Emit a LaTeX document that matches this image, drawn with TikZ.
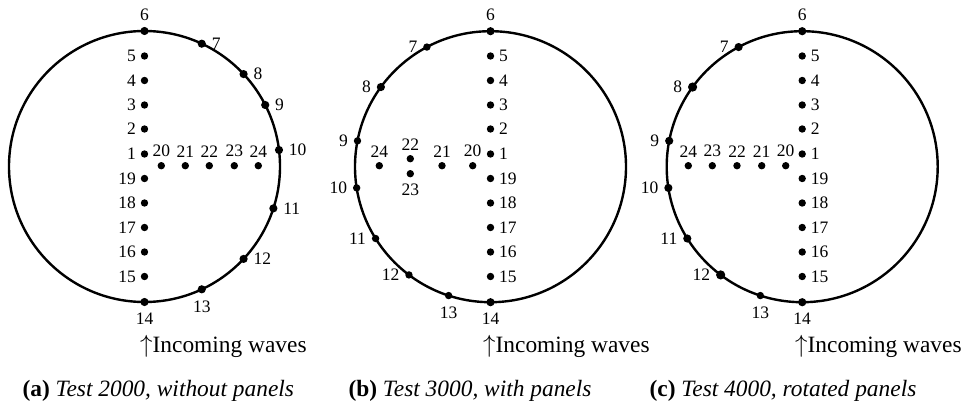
\documentclass[tikz,border=0pt]{standalone}
\usepackage{fontspec}
\setmainfont{Liberation Serif}
\begin{document}
\begin{tikzpicture}[x=1pt,y=-1pt,
  gauge/.style={circle,fill=black,inner sep=0pt,minimum size=7.4pt},
  rimgauge/.style={circle,fill=black,inner sep=0pt,minimum size=8.2pt},
  biggauge/.style={circle,fill=black,inner sep=0pt,minimum size=9.2pt},
  lab/.style={font=\fontsize{17.5}{17.5}\selectfont,inner sep=1pt},
  ring/.style={circle,draw=black,line width=2.4pt,minimum size=271pt,inner sep=0pt,outer sep=0pt},
  captxt/.style={font=\fontsize{23.4}{24}\selectfont,inner sep=0pt},
  every label/.style={lab}, label distance=3.5pt]
\useasboundingbox (0,0) rectangle (976,409);

% ---------------- panel (a) ----------------
\node[ring] (ra) at (144.5,166.5) {};
\foreach \n/\y in {5/56,4/80.5,3/105,2/129,1/154,19/178.5,18/203,17/227.5,16/252,15/276.5}
  \node[gauge,label={left:\n}] (a\n) at (144.5,\y) {};
\foreach \n/\x in {20/161.3,21/185.3,22/209.3,23/234.3,24/258.3}
  \node[gauge,label={above:\n}] (a\n) at (\x,165.7) {};
\node[rimgauge,label={[label distance=5pt]above:6}] (a6) at (ra.90) {};
\node[rimgauge,label={[label distance=4.5pt]right:7}] (a7) at (ra.65) {};
\node[rimgauge,label={[label distance=4.5pt]right:8}] (a8) at (ra.43.5) {};
\node[rimgauge,label={[label distance=4.5pt]right:9}] (a9) at (ra.27.3) {};
\node[rimgauge,label={[label distance=4.5pt]right:10}] (a10) at (ra.7.1) {};
\node[rimgauge,label={[label distance=4.5pt]right:11}] (a11) at (ra.-18) {};
\node[rimgauge,label={[label distance=4.5pt]right:12}] (a12) at (ra.-43.2) {};
\node[rimgauge,label={[label distance=6pt]below:13}] (a13) at (ra.-65) {};
\node[rimgauge,label={[label distance=5pt]below:14}] (a14) at (ra.-90) {};
\node[captxt,anchor=west] (wa) at (140,346) {$\uparrow$Incoming waves};
\node[captxt] (capa) at (158.3,391) {\textbf{(a)} \textit{Test 2000, without panels}};

% ---------------- panel (b) ----------------
\node[ring] (rb) at (490.5,166.7) {};
\foreach \n/\y in {5/56,4/80.5,3/105,2/129,1/154,19/178.5,18/203,17/227.5,16/252,15/276.5}
  \node[gauge,label={right:\n}] (b\n) at (490.5,\y) {};
\node[gauge,label={above:20}] (b20) at (472.7,165.7) {};
\node[gauge,label={above:21}] (b21) at (442,165.7) {};
\node[gauge,label={above:24}] (b24) at (379.3,165.7) {};
\node[gauge,label={above:22}] (b22) at (410.3,158.7) {};
\node[gauge,label={[label distance=5pt]below:23}] (b23) at (410.3,173.7) {};
\node[rimgauge,label={[label distance=5pt]above:6}] (b6) at (rb.90) {};
\node[gauge,label={[label distance=4.5pt]left:7}] (b7) at (rb.118.6) {};
\node[rimgauge,label={[label distance=4.5pt]left:8}] (b8) at (rb.144) {};
\node[gauge,label={[label distance=4.5pt]left:9}] (b9) at (rb.169) {};
\node[gauge,label={[label distance=4.5pt]left:10}] (b10) at (rb.189) {};
\node[gauge,label={[label distance=4.5pt]left:11}] (b11) at (rb.212.4) {};
\node[gauge,label={[label distance=4.5pt]left:12}] (b12) at (rb.233.9) {};
\node[gauge,label={[label distance=6pt]below:13}] (b13) at (rb.252) {};
\node[rimgauge,label={[label distance=5pt]below:14}] (b14) at (rb.270) {};
\node[captxt,anchor=west] (wb) at (483,346) {$\uparrow$Incoming waves};
\node[captxt] (capb) at (470,391) {\textbf{(b)} \textit{Test 3000, with panels}};

% ---------------- panel (c) ----------------
\node[ring] (rc) at (802.2,166.7) {};
\foreach \n/\y in {5/56,4/80.5,3/105,2/129,1/154,19/178.5,18/203,17/227.5,16/252,15/276.5}
  \node[gauge,label={right:\n}] (c\n) at (802.2,\y) {};
\foreach \n/\x in {20/785.7,21/761.7,22/737,23/712.3,24/688.3}
  \node[gauge,label={above:\n}] (c\n) at (\x,165.7) {};
\node[rimgauge,label={[label distance=5pt]above:6}] (c6) at (rc.90) {};
\node[rimgauge,label={[label distance=4.5pt]left:7}] (c7) at (rc.118.6) {};
\node[biggauge,label={[label distance=4.5pt]left:8}] (c8) at (rc.144) {};
\node[rimgauge,label={[label distance=4.5pt]left:9}] (c9) at (rc.169) {};
\node[rimgauge,label={[label distance=4.5pt]left:10}] (c10) at (rc.189) {};
\node[rimgauge,label={[label distance=4.5pt]left:11}] (c11) at (rc.212.4) {};
\node[biggauge,label={[label distance=4.5pt]left:12}] (c12) at (rc.233.9) {};
\node[gauge,label={[label distance=6pt]below:13}] (c13) at (rc.252) {};
\node[rimgauge,label={[label distance=5pt]below:14}] (c14) at (rc.270) {};
\node[captxt,anchor=west] (wc) at (795,346) {$\uparrow$Incoming waves};
\node[captxt] (capc) at (783,391) {\textbf{(c)} \textit{Test 4000, rotated panels}};
\end{tikzpicture}
\end{document}
